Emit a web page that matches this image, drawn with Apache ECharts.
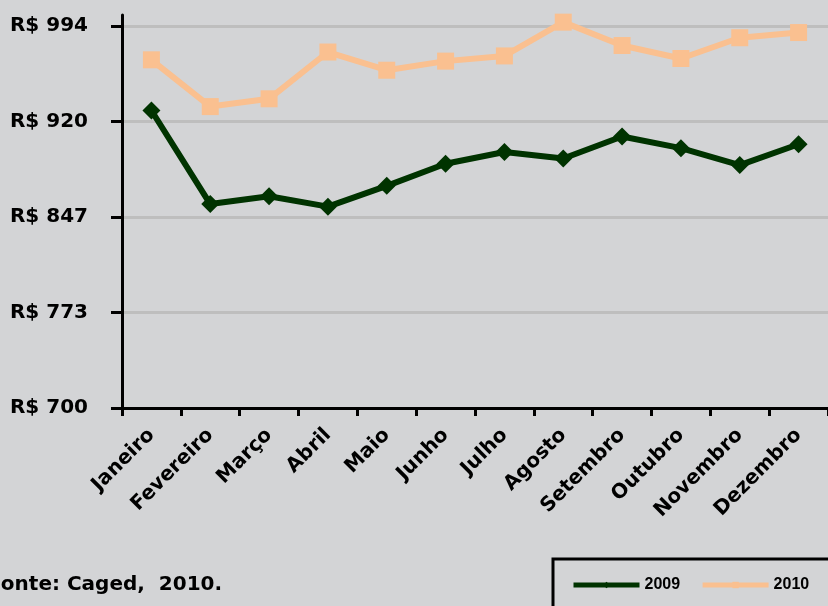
<!DOCTYPE html>
<html>
<head>
<meta charset="utf-8">
<script src="https://cdn.jsdelivr.net/npm/echarts@6/dist/echarts.min.js"></script>
<style>
  html, body { margin: 0; padding: 0; background: #d3d4d6; }
  #chart { width: 828px; height: 606px; }
</style>
</head>
<body>
<div id="chart"></div>
<script>
  // meses
  var meses = ['Janeiro', 'Fevereiro', 'Março', 'Abril', 'Maio', 'Junho',
    'Julho', 'Agosto', 'Setembro', 'Outubro', 'Novembro', 'Dezembro'];
  var anos = ['2009', '2010'];
  var valores2009 = [929, 857, 863, 855, 871, 888, 897, 892, 909, 900, 887, 903];
  var valores2010 = [968, 932, 938, 974, 960, 967, 971, 997, 979, 969, 985, 989];
  var yTicks = [700, 773.5, 847, 920.5, 994];
  var fonte = 'Fonte: Caged,  2010.';

  var fontFam = '"DejaVu Sans", sans-serif';
  var chart = echarts.init(document.getElementById('chart'));
  var option = {
    backgroundColor: '#d3d4d6',
    animation: false,
    grid: { left: 122, top: 15, width: 709, bottom: 198 },
    legend: {
      data: anos,
      left: 553,
      top: 559,
      width: 320,
      padding: [18, 60, 20, 18],
      borderColor: '#000',
      borderWidth: 3,
      itemWidth: 66,
      itemHeight: 8,
      itemGap: 20,
      lineStyle: { width: 5 },
      textStyle: { color: '#000', fontWeight: 'bold', fontSize: 16, fontFamily: '"Liberation Sans", Arial, sans-serif' }
    },
    xAxis: {
      type: 'category',
      data: meses,
      boundaryGap: true,
      axisLine: { lineStyle: { color: '#000', width: 3 } },
      axisTick: { show: true, length: 8, lineStyle: { color: '#000', width: 3 } },
      axisLabel: {
        rotate: 45,
        interval: 0,
        margin: 24,
        color: '#000',
        fontWeight: 'bold',
        fontSize: 20,
        fontFamily: fontFam
      }
    },
    yAxis: {
      type: 'value',
      min: 700,
      max: 1002.5,
      interval: 73.5,
      axisLine: { show: true, lineStyle: { color: '#000', width: 3 } },
      axisTick: { show: true, length: 11, customValues: yTicks, lineStyle: { color: '#000', width: 3 } },
      axisLabel: {
        customValues: yTicks,
        margin: 34,
        color: '#000',
        fontWeight: 'bold',
        fontSize: 20,
        fontFamily: fontFam,
        formatter: function (v) { return 'R$ ' + Math.floor(v); }
      },
      splitLine: {
        show: true,
        lineStyle: {
          color: ['#bebebe', '#bebebe', '#bebebe', '#bebebe', '#bebebe', 'rgba(0,0,0,0)'],
          width: 3
        }
      }
    },
    series: [
      {
        name: '2009',
        type: 'line',
        data: valores2009,
        clip: false,
        symbol: 'diamond',
        symbolSize: 18,
        color: '#003300',
        lineStyle: { width: 6, color: '#003300' },
        itemStyle: { color: '#003300' }
      },
      {
        name: '2010',
        type: 'line',
        data: valores2010,
        clip: false,
        symbol: 'rect',
        symbolSize: 17,
        color: '#fac090',
        lineStyle: { width: 6, color: '#fac090' },
        itemStyle: { color: '#fac090' }
      }
    ],
    graphic: [
      {
        type: 'text',
        left: -12,
        top: 575,
        style: {
          text: fonte,
          fill: '#000',
          font: 'bold 20px ' + fontFam
        }
      }
    ]
  };
  chart.setOption(option);
</script>
</body>
</html>
